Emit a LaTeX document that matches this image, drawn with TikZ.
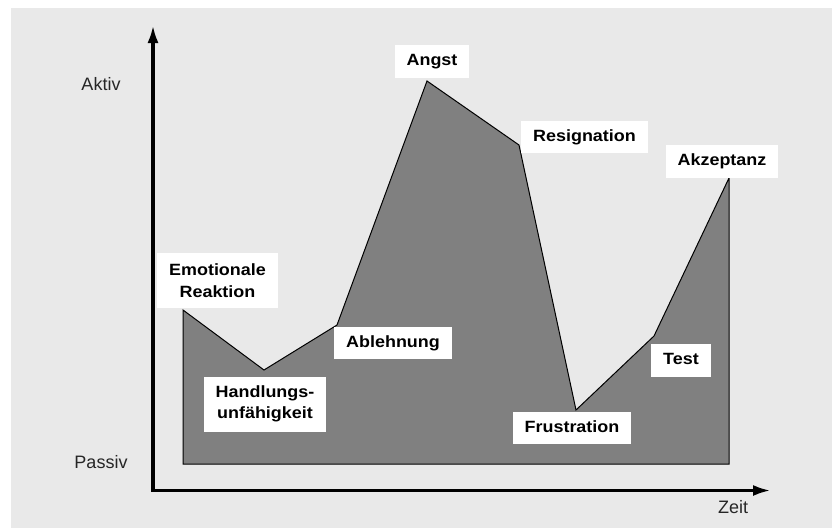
\documentclass[tikz,border=0pt]{standalone}
\usepackage{fontspec}
\setmainfont{Liberation Sans}
\newfontfamily\phasefont{Liberation Sans}[FakeStretch=1.1]
\usetikzlibrary{arrows.meta}

\begin{document}
\begin{tikzpicture}[x=1pt,y=-1pt,
        phase/.style={fill=white, align=center, inner xsep=12pt, inner ysep=8.5pt,
            text height=12pt, text depth=3.5pt,
            font=\phasefont\bfseries\fontsize{16.3}{21.5}\selectfont},
        phase2/.style={fill=white, align=center, inner xsep=12pt, inner ysep=0pt,
            minimum height=55pt,
            font=\phasefont\bfseries\fontsize{16.3}{21.5}\selectfont},
        level/.style={font=\fontsize{18}{21}\selectfont, text=black!85},
        axis/.style={line width=3.5pt, line join=miter,
            {Latex[length=18pt,width=11pt]}-{Latex[length=18pt,width=11pt]}}]
    \useasboundingbox (0,0) rectangle (832,528);
    \fill[white] (0,0) rectangle (832,528);
    \fill[black!8.5] (11,8) rectangle (832,528);

    % curve of the phases
    \coordinate (p1) at (183,310);
    \coordinate (p2) at (264,370);
    \coordinate (p3) at (337,325);
    \coordinate (p4) at (427,81);
    \coordinate (p5) at (519,145);
    \coordinate (p6) at (576,410);
    \coordinate (p7) at (654,336);
    \coordinate (p8) at (729,178);
    \coordinate (br) at (729,464);
    \coordinate (bl) at (183,464);
    \filldraw[fill=black!50, draw=black, line width=1pt]
        (bl) -- (p1) -- (p2) -- (p3) -- (p4) -- (p5) -- (p6) -- (p7) -- (p8) -- (br) -- cycle;

    % axes
    \coordinate (o) at (153,490.5);
    \coordinate (ytip) at (153,25);
    \coordinate (xtip) at (771,490.5);
    \draw[axis] (ytip) -- (o) -- (xtip);

    \node[level] (aktiv) at (101,84) {Aktiv};
    \node[level] (passiv) at (101,462) {Passiv};
    \node[level] (zeit) at (733,507) {Zeit};

    % phase labels
    \node[phase2] (emo) at (217.5,280.5) {Emotionale\\Reaktion};
    \node[phase2] (hand) at (265,404) {Handlungs-\\unfähigkeit};
    \node[phase] (abl) at (393,343) {Ablehnung};
    \node[phase] (angst) at (432,61.5) {Angst};
    \node[phase] (resig) at (584.5,137) {Resignation};
    \node[phase] (akz) at (722,161.5) {Akzeptanz};
    \node[phase] (test) at (681,360.5) {Test};
    \node[phase] (frust) at (572,428) {Frustration};
\end{tikzpicture}
\end{document}
